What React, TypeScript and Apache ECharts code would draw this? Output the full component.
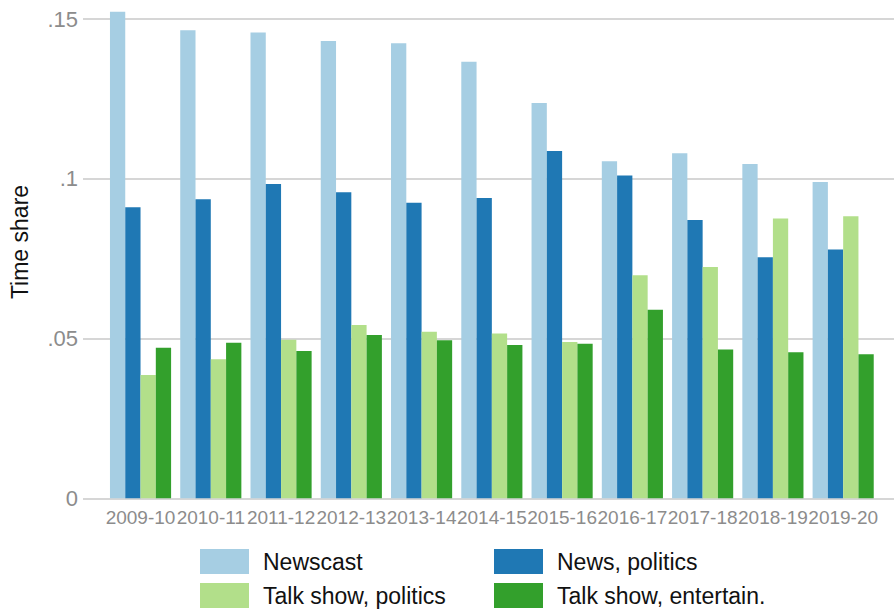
import { useEffect, useRef } from 'react';
import * as echarts from 'echarts';

const seasons = ['2009-10', '2010-11', '2011-12', '2012-13', '2013-14', '2014-15', '2015-16', '2016-17', '2017-18', '2018-19', '2019-20'];

const newscast = [0.1523, 0.1465, 0.1458, 0.1431, 0.1424, 0.1366, 0.1237, 0.1055, 0.108, 0.1046, 0.099];
const newsPolitics = [0.0911, 0.0936, 0.0984, 0.0958, 0.0925, 0.094, 0.1087, 0.101, 0.0871, 0.0754, 0.0779];
const talkPolitics = [0.0386, 0.0435, 0.0496, 0.0542, 0.0521, 0.0516, 0.0489, 0.0698, 0.0724, 0.0876, 0.0883];
const talkEntertain = [0.0471, 0.0487, 0.0461, 0.0511, 0.0495, 0.048, 0.0484, 0.059, 0.0466, 0.0457, 0.0451];

const seriesNames = ['Newscast', 'News, politics', 'Talk show, politics', 'Talk show, entertain.'];
const colors = ['#a6cee3', '#1f78b4', '#b2df8a', '#33a02c'];

const FONT = '"Liberation Sans", Arial, Helvetica, sans-serif';

export default function App() {
  const chartRef = useRef<HTMLDivElement>(null);

  useEffect(() => {
    document.body.style.margin = '0';
    if (!chartRef.current) return;
    const chart = echarts.init(chartRef.current, undefined, { renderer: 'svg' });

    const values = [newscast, newsPolitics, talkPolitics, talkEntertain];

    // legend placed as a 2x2 block, one legend per entry
    const legendPos = [
      { left: 200, top: 549 },
      { left: 494, top: 549 },
      { left: 200, top: 583 },
      { left: 494, top: 583 },
    ];

    const option: echarts.EChartsOption = {
      animation: false,
      textStyle: { fontFamily: FONT },
      grid: [
        // grid 0: gridlines and y labels, spans full width
        { left: 83, right: 0, top: 19, bottom: 113.7 },
        // grid 1: the bars, inset
        { left: 105.4, right: 15.7, top: 19, bottom: 113.7 },
      ],
      xAxis: [
        { type: 'value', gridIndex: 0, min: 0, max: 1, show: false },
        {
          type: 'category',
          gridIndex: 1,
          data: seasons,
          axisLine: { show: false },
          axisTick: { show: false },
          axisLabel: {
            interval: 0,
            color: '#8c8c8c',
            fontSize: 19,
            fontFamily: FONT,
            margin: 10,
          },
        },
      ],
      yAxis: [
        {
          type: 'value',
          gridIndex: 0,
          min: 0,
          max: 0.15,
          interval: 0.05,
          axisLine: { show: false },
          axisTick: { show: false },
          axisLabel: {
            color: '#8c8c8c',
            fontSize: 22,
            fontFamily: FONT,
            margin: 5,
            formatter: (v: number) => (v === 0 ? '0' : String(+v.toFixed(2)).replace(/^0/, '')),
          },
          splitLine: { lineStyle: { color: '#c8c8c8', width: 1.5 } },
        },
        { type: 'value', gridIndex: 1, min: 0, max: 0.15, show: false },
      ],
      legend: seriesNames.map((name, i) => ({
        data: [name],
        left: legendPos[i].left,
        top: legendPos[i].top,
        padding: 0,
        itemWidth: 49,
        itemHeight: 25,
        icon: 'rect',
        selectedMode: false,
        textStyle: {
          fontSize: 23,
          color: '#111',
          fontFamily: FONT,
          padding: [0, 0, 0, 9],
        },
      })),
      graphic: [
        {
          type: 'text',
          x: 20,
          y: 242,
          rotation: Math.PI / 2,
          style: {
            text: 'Time share',
            fontSize: 23,
            fontFamily: FONT,
            fill: '#111',
            align: 'center',
            verticalAlign: 'middle',
          },
        },
      ],
      series: seriesNames.map((name, i) => ({
        name,
        type: 'bar',
        xAxisIndex: 1,
        yAxisIndex: 1,
        data: values[i],
        clip: false,
        barGap: '0%',
        barCategoryGap: '13%',
        itemStyle: { color: colors[i] },
      })),
    };

    chart.setOption(option);

    return () => {
      chart.dispose();
    };
  }, []);

  return <div ref={chartRef} style={{ width: 894, height: 612 }} />;
}
